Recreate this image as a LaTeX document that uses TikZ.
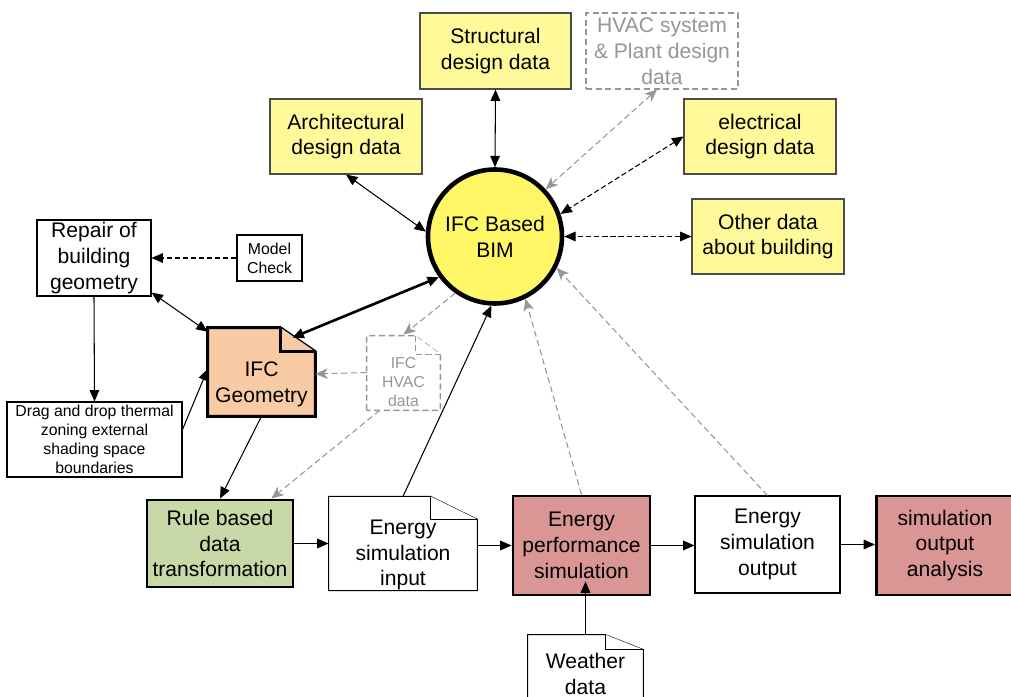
\documentclass[tikz,border=0pt]{standalone}
\usepackage{fontspec}
\setmainfont{Liberation Sans}
\usetikzlibrary{arrows.meta,backgrounds}

\definecolor{geomfill}{RGB}{248,203,165}
\definecolor{rulefill}{RGB}{200,216,166}
\definecolor{simfill}{RGB}{218,150,148}
\definecolor{lightline}{RGB}{150,150,150}

% document shape drawn behind a node: node, fold width, fold height, options
\newcommand{\dogear}[4]{%
  \begin{scope}[on background layer]
    \filldraw[#4] (#1.south west) -- ([yshift=#3]#1.north west)
      -- ([xshift=-#2,yshift=#3]#1.north east) -- (#1.north east)
      -- (#1.south east) -- cycle;
    \draw[#4] ([xshift=-#2,yshift=#3]#1.north east) -- ([xshift=-#2]#1.north east)
      -- (#1.north east);
  \end{scope}}

\begin{document}
\begin{tikzpicture}[
    x=0.2mm, y=-0.2mm,
    font=\fontsize{12}{14.7}\selectfont,
    >={Triangle[length=6.5pt,width=5.5pt]},
    box/.style={rectangle, draw, line width=0.6pt, inner sep=0pt, align=center, fill=white},
    datanode/.style={box, draw=black!70, fill=yellow!40},
    keynode/.style={box, line width=1.6pt},
    docnode/.style={rectangle, inner sep=0pt, align=center},
    smalltext/.style={font=\fontsize{9}{10.8}\selectfont},
    link/.style={line width=0.6pt},
    darklink/.style={link, dash pattern=on 3pt off 1.6pt},
    greylink/.style={link, draw=lightline, dash pattern=on 3.5pt off 2pt,
        >={Stealth[length=7pt,width=6pt,inset=2pt]}}
]
\useasboundingbox (0,0) rectangle (1011,697);

% Central model
\node[circle, draw, line width=2.6pt, fill=yellow!60, minimum size=26.8mm, inner sep=0pt,
    align=center] (bim) at (495,236.5) {IFC Based\\BIM};

% Design data around the model
\node[datanode, minimum width=30.2mm, minimum height=15.2mm] (struct) at (495.5,51) {Structural\\design data};
\node[box, draw=lightline, text=lightline, dash pattern=on 3.5pt off 2pt,
    minimum width=30.4mm, minimum height=15.2mm] (hvacsys) at (662,51) {HVAC system\\\& Plant design\\data};
\node[datanode, minimum width=30.4mm, minimum height=15mm] (arch) at (346,136.5) {Architectural\\design data};
\node[datanode, minimum width=30.4mm, minimum height=15mm] (elec) at (760,136.5) {electrical\\design data};
\node[datanode, minimum width=30.4mm, minimum height=15mm] (other) at (768,236.5) {Other data\\about building};

% Geometry preparation
\node[box, minimum width=22.8mm, minimum height=15.2mm] (repair) at (94,258) {Repair of\\building\\geometry};
\node[box, smalltext, minimum width=13mm, minimum height=9.2mm] (check) at (269.5,258) {Model\\Check};
\node[box, smalltext, minimum width=35mm, minimum height=15mm] (zoning) at (94.5,439.5)
    {Drag and drop thermal\\zoning external\\shading space\\boundaries};
\node[docnode, minimum width=21.4mm, minimum height=12.8mm] (geom) at (261.5,384) {IFC\\Geometry};
\dogear{geom}{7mm}{4.8mm}{line width=1.6pt, fill=geomfill}
\node[docnode, smalltext, text=lightline, minimum width=14.6mm, minimum height=11mm] (ifchvac) at (403.5,382.5) {IFC\\HVAC\\data};
\dogear{ifchvac}{5mm}{3.8mm}{line width=0.8pt, draw=lightline, dash pattern=on 3.5pt off 2pt, fill=white}

% Simulation chain
\node[keynode, fill=rulefill, minimum width=29.2mm, minimum height=17.4mm] (rule) at (220,543.5) {Rule based\\data\\transformation};
\node[docnode, minimum width=29.6mm, minimum height=14mm] (siminput) at (403,555) {Energy\\simulation\\input};
\dogear{siminput}{9.4mm}{4.6mm}{line width=0.6pt, fill=white}
\node[keynode, fill=simfill, minimum width=27.4mm, minimum height=19.8mm] (perf) at (581.5,545.5) {Energy\\performance\\simulation};
\node[box, minimum width=29mm, minimum height=19.4mm] (simoutput) at (767.5,544.5) {Energy\\simulation\\output};
\node[keynode, fill=simfill, minimum width=27.4mm, minimum height=19.8mm] (analysis) at (945,545.5) {simulation\\output\\analysis};
\node[docnode, minimum width=23mm, minimum height=9.6mm] (weather) at (585.5,674) {Weather\\data};
\dogear{weather}{7.6mm}{3mm}{line width=0.6pt, fill=white}

% Exchange with the model
\draw[link, <->] (struct.south) -- (bim.north);
\draw[greylink, <->] ([xshift=-1mm]hvacsys.south) -- (bim.43);
\draw[link, <->] (arch.south) -- (bim.176);
\draw[darklink, <->] (elec.west) -- (bim.19);
\draw[darklink, <->] (other.west) -- (bim.east);
\draw[line width=1.5pt, <->] (bim.216) -- ([xshift=-4.6mm,yshift=2.8mm]geom.north east);
\draw[greylink, ->] (bim.235) -- ([yshift=4mm]ifchvac.north);

% Geometry preparation links
\draw[darklink, ->] (check.west) -- (repair.east);
\draw[link, <->] ([yshift=0.8mm]repair.south east) -- ([yshift=4mm]geom.north west);
\draw[link, ->] (repair.south) -- (zoning.north);
\draw[link, ->] ([yshift=2mm]zoning.east) -- ([yshift=3mm]geom.west);
\draw[link, ->] (geom.south) -- (rule.north);
\draw[greylink, ->] ([yshift=2mm]ifchvac.west) -- ([yshift=2mm]geom.east);
\draw[greylink, ->] ([xshift=2.6mm]ifchvac.south west) -- ([xshift=-4.6mm]rule.north east);

% Simulation chain links
\draw[link, ->] (rule.east) -- (rule.east -| siminput.west);
\draw[link, ->] (siminput.east |- perf.west) -- (perf.west);
\draw[link, ->] ([yshift=4.6mm]siminput.north) -- (bim.267);
\draw[greylink, ->] (perf.north) -- (bim.296);
\draw[greylink, ->] (simoutput.north) -- (bim.333);
\draw[link, ->] (perf.east) -- (perf.east -| simoutput.west);
\draw[link, ->] (simoutput.east) -- (simoutput.east -| analysis.west);
\draw[link, ->] ([yshift=3mm]weather.north) -- ([yshift=3mm]weather.north |- perf.south);

\end{tikzpicture}
\end{document}
